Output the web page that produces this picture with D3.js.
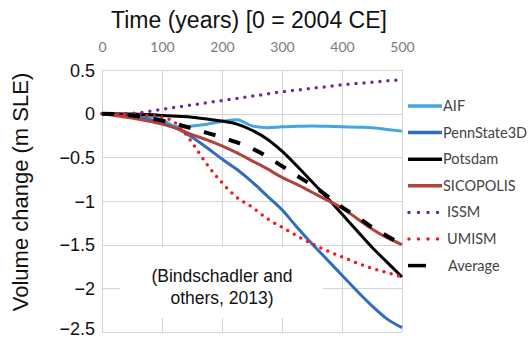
<!DOCTYPE html>
<html><head><meta charset="utf-8">
<script src="https://cdn.jsdelivr.net/npm/d3@7"></script>
<style>
html,body{margin:0;padding:0;background:#fff;}
svg{display:block;}
</style></head>
<body>
<script>
const years = [0,50,100,125,150,175,200,225,250,275,300,325,350,375,400,425,450,475,500];
const AIF        = [0,-0.01,-0.07,-0.15,-0.14,-0.12,-0.09,-0.07,-0.14,-0.16,-0.15,-0.145,-0.14,-0.145,-0.15,-0.155,-0.16,-0.18,-0.2];
const PennState3D= [0,-0.02,-0.11,-0.17,-0.27,-0.39,-0.52,-0.64,-0.78,-0.94,-1.1,-1.3,-1.49,-1.67,-1.85,-2.03,-2.2,-2.35,-2.45];
const Potsdam    = [0,-0.005,-0.02,-0.03,-0.04,-0.06,-0.085,-0.12,-0.19,-0.29,-0.43,-0.6,-0.78,-0.96,-1.15,-1.34,-1.53,-1.7,-1.87];
const SICOPOLIS  = [0,-0.05,-0.12,-0.17,-0.24,-0.3,-0.37,-0.45,-0.54,-0.63,-0.73,-0.81,-0.9,-0.99,-1.08,-1.2,-1.32,-1.42,-1.5];
const ISSM       = [0,0.005,0.05,0.075,0.1,0.125,0.15,0.175,0.2,0.225,0.25,0.27,0.29,0.31,0.33,0.345,0.36,0.375,0.39];
const UMISM      = [0,-0.01,-0.04,-0.12,-0.33,-0.58,-0.79,-0.96,-1.07,-1.2,-1.3,-1.4,-1.49,-1.57,-1.64,-1.71,-1.77,-1.82,-1.87];
const Average    = [0,-0.02,-0.08,-0.12,-0.17,-0.22,-0.27,-0.33,-0.4,-0.49,-0.6,-0.71,-0.82,-0.94,-1.07,-1.18,-1.3,-1.4,-1.5];
const seriesNames = ["AIF","PennState3D","Potsdam","SICOPOLIS","ISSM","UMISM","Average"];
const xTicks = [0,100,200,300,400,500];
const yTicks = [0.5,0,-0.5,-1,-1.5,-2,-2.5];
const titleText = "Time (years) [0 = 2004 CE]";
const yTitle = "Volume change (m SLE)";
const noteLines = ["(Bindschadler and","others, 2013)"];

const seriesData = {AIF, PennState3D, Potsdam, SICOPOLIS, ISSM, UMISM, Average};
const styles = {
  AIF:{color:"#42a6df",w:3,dash:null},
  PennState3D:{color:"#2f6dbd",w:3,dash:null},
  Potsdam:{color:"#000",w:3,dash:null},
  SICOPOLIS:{color:"#b0443b",w:3,dash:null},
  ISSM:{color:"#6a2c99",w:3.5,dash:"0,8",cap:"round"},
  UMISM:{color:"#f01a1a",w:3.5,dash:"0,7.5",cap:"round"},
  Average:{color:"#000",w:4,dash:"12,14"}
};

const W=531,H=339;
const svg=d3.select("body").append("svg").attr("width",W).attr("height",H);
const x=d3.scaleLinear().domain([0,500]).range([102,402]);
const y=d3.scaleLinear().domain([-2.5,0.5]).range([332,70]);

// grid
const grid=svg.append("g").attr("stroke","#d4d4d4").attr("stroke-width",1).attr("shape-rendering","crispEdges");
grid.selectAll(".h").data(yTicks).join("line")
  .attr("x1",x(0)).attr("x2",x(500)).attr("y1",d=>Math.round(y(d))+0.5).attr("y2",d=>Math.round(y(d))+0.5);
grid.selectAll(".v").data(xTicks).join("line")
  .attr("y1",y(0.5)).attr("y2",y(-2.5)).attr("x1",d=>Math.round(x(d))+0.5).attr("x2",d=>Math.round(x(d))+0.5);

// note box
svg.append("rect").attr("x",120).attr("y",247).attr("width",203).attr("height",71).attr("fill","#fff");

// x axis (top)
const xa=svg.append("g").attr("transform",`translate(0,${y(0.5)-15})`)
  .call(d3.axisTop(x).tickValues(xTicks).tickSize(0).tickFormat(d3.format("d")));
xa.select(".domain").remove();
xa.selectAll("text").attr("font-family","Lato, 'Open Sans', sans-serif").attr("font-size","14px").attr("fill","#7a7a7a");

// y axis
const ya=svg.append("g").attr("transform",`translate(${x(0)-4},0)`)
  .call(d3.axisLeft(y).tickValues(yTicks).tickSize(0).tickFormat(d3.format("")));
ya.select(".domain").remove();
ya.selectAll("text").attr("font-family","'Liberation Sans', Arial, sans-serif").attr("font-size","18px").attr("fill","#111")
  .attr("dy",d=>d===-2.5?"0.15em":"0.35em");

// titles
svg.append("text").attr("x",249).attr("y",28).attr("text-anchor","middle")
  .attr("font-family","'Liberation Sans', Arial, sans-serif").attr("font-size","23px").attr("fill","#111").text(titleText);
svg.append("text").attr("transform","translate(28,192) rotate(-90)").attr("text-anchor","middle")
  .attr("font-family","'Liberation Sans', Arial, sans-serif").attr("font-size","22px").attr("fill","#111").text(yTitle);

// note text
svg.append("g").selectAll("text").data(noteLines).join("text")
  .attr("x",222).attr("y",(d,i)=>282+i*22).attr("text-anchor","middle")
  .attr("font-family","'Liberation Sans', Arial, sans-serif").attr("font-size","17.5px").attr("fill","#111").text(d=>d);

// lines
const line=d3.line().x((d,i)=>x(years[i])).y(d=>y(d)).curve(d3.curveMonotoneX);
seriesNames.forEach(n=>{
  const s=styles[n];
  svg.append("path").datum(seriesData[n]).attr("d",line).attr("fill","none")
    .attr("stroke",s.color).attr("stroke-width",s.w)
    .attr("stroke-dasharray",s.dash).attr("stroke-linecap",s.cap||"butt").attr("stroke-linejoin","round");
});

// legend
const lg=svg.append("g");
seriesNames.forEach((n,i)=>{
  const s=styles[n];
  const cy=106+i*26.6;
  let x1=408,x2=442;
  if(n==="Average"){x2=426;}
  if(s.cap==="round"){x1=409;x2=438;}
  lg.append("line").attr("x1",x1).attr("x2",x2).attr("y1",cy).attr("y2",cy)
    .attr("stroke",s.color).attr("stroke-width",3.5)
    .attr("stroke-dasharray",s.cap==="round"?"0,9.5":null).attr("stroke-linecap",s.cap||"butt");
  lg.append("text").attr("x",n==="Average"?448:(s.cap==="round"?447:443)).attr("y",cy).attr("dy","0.35em")
    .attr("font-family","Lato, 'Open Sans', sans-serif").attr("font-size","14.5px").attr("fill","#444").text(n);
});
</script>
</body></html>
